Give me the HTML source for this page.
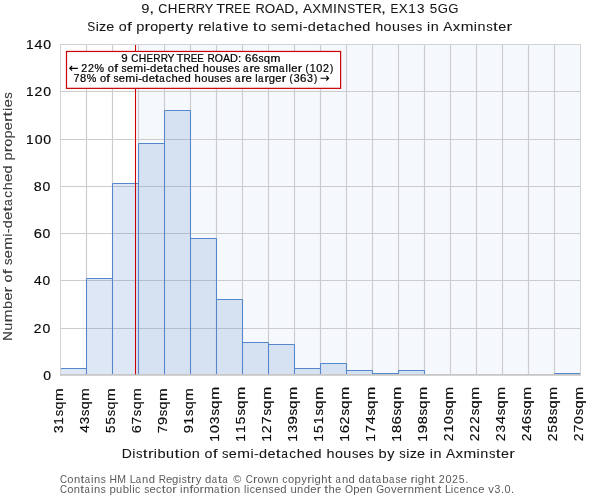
<!DOCTYPE html>
<html lang="en"><head><meta charset="utf-8"><title>Size of property relative to semi-detached houses in Axminster</title>
<style>html,body{margin:0;padding:0;background:#fff;}body{width:600px;height:500px;overflow:hidden;}svg{display:block;will-change:transform;}text{font-family:"Liberation Sans",sans-serif;stroke-linejoin:round;}.b text{stroke:#151515;stroke-width:0.06px;}.t text{stroke:#0a0a0a;stroke-width:0.16px;}.a text{stroke:#000;stroke-width:0.22px;}.l text{stroke:#3a3a3a;stroke-width:0.1px;}</style></head><body>
<svg width="600" height="500" viewBox="0 0 600 500">
<rect width="600" height="500" fill="#ffffff"/>
<rect x="136.0" y="44.5" width="444.5" height="329.5" fill="#5080c8" fill-opacity="0.06"/>
<path d="M86.5 44.5V375.0M112.5 44.5V375.0M138.5 44.5V375.0M164.5 44.5V375.0M190.5 44.5V375.0M216.5 44.5V375.0M242.5 44.5V375.0M268.5 44.5V375.0M294.5 44.5V375.0M320.5 44.5V375.0M346.5 44.5V375.0M372.5 44.5V375.0M398.5 44.5V375.0M424.5 44.5V375.0M450.5 44.5V375.0M476.5 44.5V375.0M502.5 44.5V375.0M528.5 44.5V375.0M554.5 44.5V375.0M60.5 374.5H580.5M60.5 328.5H580.5M60.5 280.5H580.5M60.5 233.5H580.5M60.5 186.5H580.5M60.5 139.5H580.5M60.5 91.5H580.5" stroke="#cccccc" stroke-width="1.15" fill="none"/>
<rect x="60.5" y="368.5" width="26.0" height="5.5" fill="#5080c8" fill-opacity="0.19"/>
<rect x="86.5" y="278.5" width="26.0" height="95.5" fill="#5080c8" fill-opacity="0.19"/>
<rect x="112.5" y="183.5" width="26.0" height="190.5" fill="#5080c8" fill-opacity="0.19"/>
<rect x="138.5" y="143.5" width="26.0" height="230.5" fill="#5080c8" fill-opacity="0.19"/>
<rect x="164.5" y="110.5" width="26.0" height="263.5" fill="#5080c8" fill-opacity="0.19"/>
<rect x="190.5" y="238.5" width="26.0" height="135.5" fill="#5080c8" fill-opacity="0.19"/>
<rect x="216.5" y="299.5" width="26.0" height="74.5" fill="#5080c8" fill-opacity="0.19"/>
<rect x="242.5" y="342.5" width="26.0" height="31.5" fill="#5080c8" fill-opacity="0.19"/>
<rect x="268.5" y="344.5" width="26.0" height="29.5" fill="#5080c8" fill-opacity="0.19"/>
<rect x="294.5" y="368.5" width="26.0" height="5.5" fill="#5080c8" fill-opacity="0.19"/>
<rect x="320.5" y="363.5" width="26.0" height="10.5" fill="#5080c8" fill-opacity="0.19"/>
<rect x="346.5" y="370.5" width="26.0" height="3.5" fill="#5080c8" fill-opacity="0.19"/>
<rect x="372.5" y="373.5" width="26.0" height="0.5" fill="#5080c8" fill-opacity="0.19"/>
<rect x="398.5" y="370.5" width="26.0" height="3.5" fill="#5080c8" fill-opacity="0.19"/>
<rect x="554.5" y="373.5" width="26.0" height="0.5" fill="#5080c8" fill-opacity="0.19"/>
<path d="M60.5 374V368.5H86.5V374M86.5 374V278.5H112.5V374M112.5 374V183.5H138.5V374M138.5 374V143.5H164.5V374M164.5 374V110.5H190.5V374M190.5 374V238.5H216.5V374M216.5 374V299.5H242.5V374M242.5 374V342.5H268.5V374M268.5 374V344.5H294.5V374M294.5 374V368.5H320.5V374M320.5 374V363.5H346.5V374M346.5 374V370.5H372.5V374M372.5 374V373.5H398.5V374M398.5 374V370.5H424.5V374M554.5 374V373.5H580.5V374" fill="none" stroke="#5486cc" stroke-width="1.0" stroke-linejoin="miter"/>
<path d="M135.5 44.5V375.0" stroke="#cc0000" stroke-width="1.05"/>
<path d="M60.5 44V375.7M580.5 44V375.7M60 44.5H581" fill="none" stroke="#d2d2d2" stroke-width="1.0"/>
<path d="M60 375H581" fill="none" stroke="#c4c4c4" stroke-width="1.4"/>
<rect x="66.5" y="51.45" width="274.1" height="36.9" fill="#ffffff" stroke="#cc0000" stroke-width="1.2"/>
<g opacity="0.999">
<g class="a">
<g font-size="10.3" fill="#000000"><text x="121.28" y="61.60" textLength="6.42" lengthAdjust="spacingAndGlyphs">9</text><text x="131.30" y="61.60" textLength="7.07" lengthAdjust="spacingAndGlyphs">C</text><text x="138.73" y="61.60" textLength="7.53" lengthAdjust="spacingAndGlyphs">H</text><text x="146.53" y="61.60" textLength="6.53" lengthAdjust="spacingAndGlyphs">E</text><text x="153.32" y="61.60" textLength="7.29" lengthAdjust="spacingAndGlyphs">R</text><text x="160.64" y="61.60" textLength="7.29" lengthAdjust="spacingAndGlyphs">R</text><text x="167.55" y="61.60" textLength="6.97" lengthAdjust="spacingAndGlyphs">Y</text><text x="176.63" y="61.60" textLength="6.99" lengthAdjust="spacingAndGlyphs">T</text><text x="183.48" y="61.60" textLength="7.29" lengthAdjust="spacingAndGlyphs">R</text><text x="190.66" y="61.60" textLength="6.53" lengthAdjust="spacingAndGlyphs">E</text><text x="197.31" y="61.60" textLength="6.53" lengthAdjust="spacingAndGlyphs">E</text><text x="207.45" y="61.60" textLength="7.29" lengthAdjust="spacingAndGlyphs">R</text><text x="214.68" y="61.60" textLength="8.13" lengthAdjust="spacingAndGlyphs">O</text><text x="222.91" y="61.60" textLength="7.13" lengthAdjust="spacingAndGlyphs">A</text><text x="229.99" y="61.60" textLength="7.92" lengthAdjust="spacingAndGlyphs">D</text><text x="238.14" y="61.60" textLength="3.22" lengthAdjust="spacingAndGlyphs">:</text><text x="244.97" y="61.60" textLength="6.42" lengthAdjust="spacingAndGlyphs">6</text><text x="251.67" y="61.60" textLength="6.42" lengthAdjust="spacingAndGlyphs">6</text><text x="258.53" y="61.60" textLength="5.08" lengthAdjust="spacingAndGlyphs">s</text><text x="263.87" y="61.60" textLength="6.30" lengthAdjust="spacingAndGlyphs">q</text><text x="270.60" y="61.60" textLength="9.95" lengthAdjust="spacingAndGlyphs">m</text></g>
<g font-size="10.3" fill="#000000"><text x="81.25" y="71.65" textLength="5.96" lengthAdjust="spacingAndGlyphs">2</text><text x="87.93" y="71.65" textLength="5.96" lengthAdjust="spacingAndGlyphs">2</text><text x="94.60" y="71.65" textLength="9.55" lengthAdjust="spacingAndGlyphs">%</text><text x="107.83" y="71.65" textLength="6.20" lengthAdjust="spacingAndGlyphs">o</text><text x="114.19" y="71.65" textLength="3.83" lengthAdjust="spacingAndGlyphs">f</text><text x="121.42" y="71.65" textLength="5.07" lengthAdjust="spacingAndGlyphs">s</text><text x="126.74" y="71.65" textLength="6.26" lengthAdjust="spacingAndGlyphs">e</text><text x="133.24" y="71.65" textLength="9.92" lengthAdjust="spacingAndGlyphs">m</text><text x="143.51" y="71.65" textLength="2.46" lengthAdjust="spacingAndGlyphs">i</text><text x="146.22" y="71.65" textLength="3.77" lengthAdjust="spacingAndGlyphs">-</text><text x="150.11" y="71.65" textLength="6.28" lengthAdjust="spacingAndGlyphs">d</text><text x="156.77" y="71.65" textLength="6.26" lengthAdjust="spacingAndGlyphs">e</text><text x="163.15" y="71.65" textLength="3.87" lengthAdjust="spacingAndGlyphs">t</text><text x="167.35" y="71.65" textLength="5.44" lengthAdjust="spacingAndGlyphs">a</text><text x="173.80" y="71.65" textLength="5.25" lengthAdjust="spacingAndGlyphs">c</text><text x="179.63" y="71.65" textLength="6.24" lengthAdjust="spacingAndGlyphs">h</text><text x="186.19" y="71.65" textLength="6.26" lengthAdjust="spacingAndGlyphs">e</text><text x="192.64" y="71.65" textLength="6.28" lengthAdjust="spacingAndGlyphs">d</text><text x="202.72" y="71.65" textLength="6.24" lengthAdjust="spacingAndGlyphs">h</text><text x="209.29" y="71.65" textLength="6.20" lengthAdjust="spacingAndGlyphs">o</text><text x="215.79" y="71.65" textLength="6.24" lengthAdjust="spacingAndGlyphs">u</text><text x="222.49" y="71.65" textLength="5.07" lengthAdjust="spacingAndGlyphs">s</text><text x="227.82" y="71.65" textLength="6.26" lengthAdjust="spacingAndGlyphs">e</text><text x="234.41" y="71.65" textLength="5.07" lengthAdjust="spacingAndGlyphs">s</text><text x="243.08" y="71.65" textLength="5.44" lengthAdjust="spacingAndGlyphs">a</text><text x="249.45" y="71.65" textLength="4.45" lengthAdjust="spacingAndGlyphs">r</text><text x="253.81" y="71.65" textLength="6.26" lengthAdjust="spacingAndGlyphs">e</text><text x="263.51" y="71.65" textLength="5.07" lengthAdjust="spacingAndGlyphs">s</text><text x="268.88" y="71.65" textLength="9.92" lengthAdjust="spacingAndGlyphs">m</text><text x="279.06" y="71.65" textLength="5.44" lengthAdjust="spacingAndGlyphs">a</text><text x="285.62" y="71.65" textLength="2.33" lengthAdjust="spacingAndGlyphs">l</text><text x="288.53" y="71.65" textLength="2.33" lengthAdjust="spacingAndGlyphs">l</text><text x="291.31" y="71.65" textLength="6.26" lengthAdjust="spacingAndGlyphs">e</text><text x="297.71" y="71.65" textLength="4.45" lengthAdjust="spacingAndGlyphs">r</text><text x="305.45" y="71.65" textLength="3.26" lengthAdjust="spacingAndGlyphs">(</text><text x="309.69" y="71.65" textLength="5.90" lengthAdjust="spacingAndGlyphs">1</text><text x="316.35" y="71.65" textLength="6.07" lengthAdjust="spacingAndGlyphs">0</text><text x="322.93" y="71.65" textLength="5.96" lengthAdjust="spacingAndGlyphs">2</text><text x="330.05" y="71.65" textLength="3.26" lengthAdjust="spacingAndGlyphs">)</text></g>
<g font-size="10.3" fill="#000000"><text x="73.46" y="81.55" textLength="6.01" lengthAdjust="spacingAndGlyphs">7</text><text x="80.06" y="81.55" textLength="6.19" lengthAdjust="spacingAndGlyphs">8</text><text x="86.69" y="81.55" textLength="9.54" lengthAdjust="spacingAndGlyphs">%</text><text x="99.90" y="81.55" textLength="6.19" lengthAdjust="spacingAndGlyphs">o</text><text x="106.25" y="81.55" textLength="3.83" lengthAdjust="spacingAndGlyphs">f</text><text x="113.46" y="81.55" textLength="5.06" lengthAdjust="spacingAndGlyphs">s</text><text x="118.77" y="81.55" textLength="6.25" lengthAdjust="spacingAndGlyphs">e</text><text x="125.26" y="81.55" textLength="9.90" lengthAdjust="spacingAndGlyphs">m</text><text x="135.52" y="81.55" textLength="2.46" lengthAdjust="spacingAndGlyphs">i</text><text x="138.22" y="81.55" textLength="3.77" lengthAdjust="spacingAndGlyphs">-</text><text x="142.10" y="81.55" textLength="6.27" lengthAdjust="spacingAndGlyphs">d</text><text x="148.75" y="81.55" textLength="6.25" lengthAdjust="spacingAndGlyphs">e</text><text x="155.12" y="81.55" textLength="3.86" lengthAdjust="spacingAndGlyphs">t</text><text x="159.30" y="81.55" textLength="5.44" lengthAdjust="spacingAndGlyphs">a</text><text x="165.75" y="81.55" textLength="5.24" lengthAdjust="spacingAndGlyphs">c</text><text x="171.57" y="81.55" textLength="6.23" lengthAdjust="spacingAndGlyphs">h</text><text x="178.12" y="81.55" textLength="6.25" lengthAdjust="spacingAndGlyphs">e</text><text x="184.56" y="81.55" textLength="6.27" lengthAdjust="spacingAndGlyphs">d</text><text x="194.62" y="81.55" textLength="6.23" lengthAdjust="spacingAndGlyphs">h</text><text x="201.18" y="81.55" textLength="6.19" lengthAdjust="spacingAndGlyphs">o</text><text x="207.67" y="81.55" textLength="6.23" lengthAdjust="spacingAndGlyphs">u</text><text x="214.36" y="81.55" textLength="5.06" lengthAdjust="spacingAndGlyphs">s</text><text x="219.67" y="81.55" textLength="6.25" lengthAdjust="spacingAndGlyphs">e</text><text x="226.26" y="81.55" textLength="5.06" lengthAdjust="spacingAndGlyphs">s</text><text x="234.90" y="81.55" textLength="5.44" lengthAdjust="spacingAndGlyphs">a</text><text x="241.27" y="81.55" textLength="4.45" lengthAdjust="spacingAndGlyphs">r</text><text x="245.63" y="81.55" textLength="6.25" lengthAdjust="spacingAndGlyphs">e</text><text x="255.30" y="81.55" textLength="2.33" lengthAdjust="spacingAndGlyphs">l</text><text x="258.08" y="81.55" textLength="5.44" lengthAdjust="spacingAndGlyphs">a</text><text x="264.44" y="81.55" textLength="4.45" lengthAdjust="spacingAndGlyphs">r</text><text x="268.80" y="81.55" textLength="6.27" lengthAdjust="spacingAndGlyphs">g</text><text x="275.26" y="81.55" textLength="6.25" lengthAdjust="spacingAndGlyphs">e</text><text x="281.66" y="81.55" textLength="4.45" lengthAdjust="spacingAndGlyphs">r</text><text x="289.38" y="81.55" textLength="3.26" lengthAdjust="spacingAndGlyphs">(</text><text x="293.72" y="81.55" textLength="5.89" lengthAdjust="spacingAndGlyphs">3</text><text x="300.07" y="81.55" textLength="6.39" lengthAdjust="spacingAndGlyphs">6</text><text x="307.04" y="81.55" textLength="5.89" lengthAdjust="spacingAndGlyphs">3</text><text x="313.94" y="81.55" textLength="3.26" lengthAdjust="spacingAndGlyphs">)</text></g>
</g>
<path d="M69.6 68.3H77.9M72.1 66.0L69.8 68.3L72.1 70.6" fill="none" stroke="#000000" stroke-width="1.15" stroke-linejoin="miter"/>
<path d="M320.5 78.2H328.8M326.3 75.9L328.6 78.2L326.3 80.5" fill="none" stroke="#000000" stroke-width="1.15" stroke-linejoin="miter"/>
<g class="b">
<g font-size="11.9" fill="#151515"><text x="141.24" y="12.70" textLength="8.20" lengthAdjust="spacingAndGlyphs">9</text><text x="149.16" y="12.70" textLength="4.96" lengthAdjust="spacingAndGlyphs">,</text><text x="158.30" y="12.70" textLength="9.02" lengthAdjust="spacingAndGlyphs">C</text><text x="167.78" y="12.70" textLength="9.62" lengthAdjust="spacingAndGlyphs">H</text><text x="178.02" y="12.70" textLength="7.81" lengthAdjust="spacingAndGlyphs">E</text><text x="186.41" y="12.70" textLength="9.30" lengthAdjust="spacingAndGlyphs">R</text><text x="195.75" y="12.70" textLength="9.30" lengthAdjust="spacingAndGlyphs">R</text><text x="204.58" y="12.70" textLength="8.89" lengthAdjust="spacingAndGlyphs">Y</text><text x="216.17" y="12.70" textLength="8.93" lengthAdjust="spacingAndGlyphs">T</text><text x="224.92" y="12.70" textLength="9.30" lengthAdjust="spacingAndGlyphs">R</text><text x="234.35" y="12.70" textLength="7.81" lengthAdjust="spacingAndGlyphs">E</text><text x="242.84" y="12.70" textLength="7.81" lengthAdjust="spacingAndGlyphs">E</text><text x="255.51" y="12.70" textLength="9.30" lengthAdjust="spacingAndGlyphs">R</text><text x="264.74" y="12.70" textLength="10.38" lengthAdjust="spacingAndGlyphs">O</text><text x="275.25" y="12.70" textLength="9.10" lengthAdjust="spacingAndGlyphs">A</text><text x="284.29" y="12.70" textLength="10.11" lengthAdjust="spacingAndGlyphs">D</text><text x="294.00" y="12.70" textLength="4.96" lengthAdjust="spacingAndGlyphs">,</text><text x="303.10" y="12.70" textLength="9.10" lengthAdjust="spacingAndGlyphs">A</text><text x="312.36" y="12.70" textLength="8.89" lengthAdjust="spacingAndGlyphs">X</text><text x="321.63" y="12.70" textLength="11.19" lengthAdjust="spacingAndGlyphs">M</text><text x="333.03" y="12.70" textLength="3.92" lengthAdjust="spacingAndGlyphs">I</text><text x="337.21" y="12.70" textLength="9.53" lengthAdjust="spacingAndGlyphs">N</text><text x="347.37" y="12.70" textLength="7.96" lengthAdjust="spacingAndGlyphs">S</text><text x="355.28" y="12.70" textLength="8.93" lengthAdjust="spacingAndGlyphs">T</text><text x="364.12" y="12.70" textLength="7.81" lengthAdjust="spacingAndGlyphs">E</text><text x="372.51" y="12.70" textLength="9.30" lengthAdjust="spacingAndGlyphs">R</text><text x="381.12" y="12.70" textLength="4.96" lengthAdjust="spacingAndGlyphs">,</text><text x="390.49" y="12.70" textLength="7.81" lengthAdjust="spacingAndGlyphs">E</text><text x="398.78" y="12.70" textLength="8.89" lengthAdjust="spacingAndGlyphs">X</text><text x="408.24" y="12.70" textLength="7.56" lengthAdjust="spacingAndGlyphs">1</text><text x="416.93" y="12.70" textLength="7.55" lengthAdjust="spacingAndGlyphs">3</text><text x="429.69" y="12.70" textLength="7.47" lengthAdjust="spacingAndGlyphs">5</text><text x="437.85" y="12.70" textLength="10.21" lengthAdjust="spacingAndGlyphs">G</text><text x="448.27" y="12.70" textLength="10.21" lengthAdjust="spacingAndGlyphs">G</text></g>
<g font-size="11.9" fill="#151515"><text x="87.16" y="30.75" textLength="7.97" lengthAdjust="spacingAndGlyphs">S</text><text x="95.65" y="30.75" textLength="3.15" lengthAdjust="spacingAndGlyphs">i</text><text x="99.06" y="30.75" textLength="7.21" lengthAdjust="spacingAndGlyphs">z</text><text x="106.32" y="30.75" textLength="8.03" lengthAdjust="spacingAndGlyphs">e</text><text x="118.88" y="30.75" textLength="7.95" lengthAdjust="spacingAndGlyphs">o</text><text x="127.03" y="30.75" textLength="4.91" lengthAdjust="spacingAndGlyphs">f</text><text x="136.28" y="30.75" textLength="8.14" lengthAdjust="spacingAndGlyphs">p</text><text x="144.59" y="30.75" textLength="5.71" lengthAdjust="spacingAndGlyphs">r</text><text x="150.19" y="30.75" textLength="7.95" lengthAdjust="spacingAndGlyphs">o</text><text x="158.29" y="30.75" textLength="8.14" lengthAdjust="spacingAndGlyphs">p</text><text x="166.65" y="30.75" textLength="8.03" lengthAdjust="spacingAndGlyphs">e</text><text x="174.86" y="30.75" textLength="5.71" lengthAdjust="spacingAndGlyphs">r</text><text x="180.37" y="30.75" textLength="4.96" lengthAdjust="spacingAndGlyphs">t</text><text x="185.98" y="30.75" textLength="7.20" lengthAdjust="spacingAndGlyphs">y</text><text x="197.90" y="30.75" textLength="5.71" lengthAdjust="spacingAndGlyphs">r</text><text x="203.50" y="30.75" textLength="8.03" lengthAdjust="spacingAndGlyphs">e</text><text x="211.65" y="30.75" textLength="2.99" lengthAdjust="spacingAndGlyphs">l</text><text x="215.38" y="30.75" textLength="6.69" lengthAdjust="spacingAndGlyphs">a</text><text x="223.37" y="30.75" textLength="4.96" lengthAdjust="spacingAndGlyphs">t</text><text x="228.86" y="30.75" textLength="3.15" lengthAdjust="spacingAndGlyphs">i</text><text x="232.71" y="30.75" textLength="7.20" lengthAdjust="spacingAndGlyphs">v</text><text x="240.43" y="30.75" textLength="8.03" lengthAdjust="spacingAndGlyphs">e</text><text x="252.89" y="30.75" textLength="4.96" lengthAdjust="spacingAndGlyphs">t</text><text x="258.26" y="30.75" textLength="7.95" lengthAdjust="spacingAndGlyphs">o</text><text x="270.95" y="30.75" textLength="6.50" lengthAdjust="spacingAndGlyphs">s</text><text x="277.77" y="30.75" textLength="8.03" lengthAdjust="spacingAndGlyphs">e</text><text x="286.10" y="30.75" textLength="12.71" lengthAdjust="spacingAndGlyphs">m</text><text x="299.27" y="30.75" textLength="3.15" lengthAdjust="spacingAndGlyphs">i</text><text x="302.75" y="30.75" textLength="4.84" lengthAdjust="spacingAndGlyphs">-</text><text x="307.74" y="30.75" textLength="8.06" lengthAdjust="spacingAndGlyphs">d</text><text x="316.28" y="30.75" textLength="8.03" lengthAdjust="spacingAndGlyphs">e</text><text x="324.46" y="30.75" textLength="4.96" lengthAdjust="spacingAndGlyphs">t</text><text x="329.99" y="30.75" textLength="6.69" lengthAdjust="spacingAndGlyphs">a</text><text x="338.11" y="30.75" textLength="6.73" lengthAdjust="spacingAndGlyphs">c</text><text x="345.58" y="30.75" textLength="8.00" lengthAdjust="spacingAndGlyphs">h</text><text x="353.99" y="30.75" textLength="8.03" lengthAdjust="spacingAndGlyphs">e</text><text x="362.26" y="30.75" textLength="8.06" lengthAdjust="spacingAndGlyphs">d</text><text x="375.19" y="30.75" textLength="8.00" lengthAdjust="spacingAndGlyphs">h</text><text x="383.61" y="30.75" textLength="7.95" lengthAdjust="spacingAndGlyphs">o</text><text x="391.95" y="30.75" textLength="8.00" lengthAdjust="spacingAndGlyphs">u</text><text x="400.54" y="30.75" textLength="6.50" lengthAdjust="spacingAndGlyphs">s</text><text x="407.37" y="30.75" textLength="8.03" lengthAdjust="spacingAndGlyphs">e</text><text x="415.83" y="30.75" textLength="6.50" lengthAdjust="spacingAndGlyphs">s</text><text x="427.05" y="30.75" textLength="3.15" lengthAdjust="spacingAndGlyphs">i</text><text x="430.77" y="30.75" textLength="8.00" lengthAdjust="spacingAndGlyphs">n</text><text x="443.37" y="30.75" textLength="9.11" lengthAdjust="spacingAndGlyphs">A</text><text x="452.69" y="30.75" textLength="7.50" lengthAdjust="spacingAndGlyphs">x</text><text x="460.68" y="30.75" textLength="12.71" lengthAdjust="spacingAndGlyphs">m</text><text x="473.85" y="30.75" textLength="3.15" lengthAdjust="spacingAndGlyphs">i</text><text x="477.58" y="30.75" textLength="8.00" lengthAdjust="spacingAndGlyphs">n</text><text x="486.17" y="30.75" textLength="6.50" lengthAdjust="spacingAndGlyphs">s</text><text x="492.90" y="30.75" textLength="4.96" lengthAdjust="spacingAndGlyphs">t</text><text x="498.27" y="30.75" textLength="8.03" lengthAdjust="spacingAndGlyphs">e</text><text x="506.48" y="30.75" textLength="5.71" lengthAdjust="spacingAndGlyphs">r</text></g>
<g font-size="11.9" fill="#151515"><text x="121.68" y="457.80" textLength="10.14" lengthAdjust="spacingAndGlyphs">D</text><text x="132.19" y="457.80" textLength="3.16" lengthAdjust="spacingAndGlyphs">i</text><text x="135.99" y="457.80" textLength="6.51" lengthAdjust="spacingAndGlyphs">s</text><text x="142.74" y="457.80" textLength="4.96" lengthAdjust="spacingAndGlyphs">t</text><text x="148.05" y="457.80" textLength="5.72" lengthAdjust="spacingAndGlyphs">r</text><text x="153.78" y="457.80" textLength="3.16" lengthAdjust="spacingAndGlyphs">i</text><text x="157.57" y="457.80" textLength="8.15" lengthAdjust="spacingAndGlyphs">b</text><text x="166.07" y="457.80" textLength="8.02" lengthAdjust="spacingAndGlyphs">u</text><text x="174.41" y="457.80" textLength="4.96" lengthAdjust="spacingAndGlyphs">t</text><text x="179.91" y="457.80" textLength="3.16" lengthAdjust="spacingAndGlyphs">i</text><text x="183.53" y="457.80" textLength="7.97" lengthAdjust="spacingAndGlyphs">o</text><text x="191.88" y="457.80" textLength="8.02" lengthAdjust="spacingAndGlyphs">n</text><text x="204.60" y="457.80" textLength="7.97" lengthAdjust="spacingAndGlyphs">o</text><text x="212.77" y="457.80" textLength="4.92" lengthAdjust="spacingAndGlyphs">f</text><text x="222.06" y="457.80" textLength="6.51" lengthAdjust="spacingAndGlyphs">s</text><text x="228.89" y="457.80" textLength="8.05" lengthAdjust="spacingAndGlyphs">e</text><text x="237.24" y="457.80" textLength="12.74" lengthAdjust="spacingAndGlyphs">m</text><text x="250.44" y="457.80" textLength="3.16" lengthAdjust="spacingAndGlyphs">i</text><text x="253.92" y="457.80" textLength="4.85" lengthAdjust="spacingAndGlyphs">-</text><text x="258.92" y="457.80" textLength="8.07" lengthAdjust="spacingAndGlyphs">d</text><text x="267.48" y="457.80" textLength="8.05" lengthAdjust="spacingAndGlyphs">e</text><text x="275.68" y="457.80" textLength="4.96" lengthAdjust="spacingAndGlyphs">t</text><text x="281.22" y="457.80" textLength="6.70" lengthAdjust="spacingAndGlyphs">a</text><text x="289.35" y="457.80" textLength="6.74" lengthAdjust="spacingAndGlyphs">c</text><text x="296.84" y="457.80" textLength="8.02" lengthAdjust="spacingAndGlyphs">h</text><text x="305.27" y="457.80" textLength="8.05" lengthAdjust="spacingAndGlyphs">e</text><text x="313.56" y="457.80" textLength="8.07" lengthAdjust="spacingAndGlyphs">d</text><text x="326.51" y="457.80" textLength="8.02" lengthAdjust="spacingAndGlyphs">h</text><text x="334.95" y="457.80" textLength="7.97" lengthAdjust="spacingAndGlyphs">o</text><text x="343.30" y="457.80" textLength="8.02" lengthAdjust="spacingAndGlyphs">u</text><text x="351.92" y="457.80" textLength="6.51" lengthAdjust="spacingAndGlyphs">s</text><text x="358.75" y="457.80" textLength="8.05" lengthAdjust="spacingAndGlyphs">e</text><text x="367.23" y="457.80" textLength="6.51" lengthAdjust="spacingAndGlyphs">s</text><text x="378.52" y="457.80" textLength="8.15" lengthAdjust="spacingAndGlyphs">b</text><text x="387.15" y="457.80" textLength="7.21" lengthAdjust="spacingAndGlyphs">y</text><text x="399.35" y="457.80" textLength="6.51" lengthAdjust="spacingAndGlyphs">s</text><text x="406.31" y="457.80" textLength="3.16" lengthAdjust="spacingAndGlyphs">i</text><text x="409.73" y="457.80" textLength="7.23" lengthAdjust="spacingAndGlyphs">z</text><text x="417.01" y="457.80" textLength="8.05" lengthAdjust="spacingAndGlyphs">e</text><text x="429.71" y="457.80" textLength="3.16" lengthAdjust="spacingAndGlyphs">i</text><text x="433.44" y="457.80" textLength="8.02" lengthAdjust="spacingAndGlyphs">n</text><text x="446.06" y="457.80" textLength="9.13" lengthAdjust="spacingAndGlyphs">A</text><text x="455.40" y="457.80" textLength="7.51" lengthAdjust="spacingAndGlyphs">x</text><text x="463.41" y="457.80" textLength="12.74" lengthAdjust="spacingAndGlyphs">m</text><text x="476.61" y="457.80" textLength="3.16" lengthAdjust="spacingAndGlyphs">i</text><text x="480.34" y="457.80" textLength="8.02" lengthAdjust="spacingAndGlyphs">n</text><text x="488.95" y="457.80" textLength="6.51" lengthAdjust="spacingAndGlyphs">s</text><text x="495.70" y="457.80" textLength="4.96" lengthAdjust="spacingAndGlyphs">t</text><text x="501.07" y="457.80" textLength="8.05" lengthAdjust="spacingAndGlyphs">e</text><text x="509.30" y="457.80" textLength="5.72" lengthAdjust="spacingAndGlyphs">r</text></g>
</g>
<g class="t">
<g font-size="11.9" fill="#0a0a0a"><text x="43.21" y="379.80" textLength="7.80" lengthAdjust="spacingAndGlyphs">0</text></g>
<g font-size="11.9" fill="#0a0a0a"><text x="33.71" y="332.80" textLength="7.66" lengthAdjust="spacingAndGlyphs">2</text><text x="42.42" y="332.80" textLength="7.81" lengthAdjust="spacingAndGlyphs">0</text></g>
<g font-size="11.9" fill="#0a0a0a"><text x="34.12" y="284.80" textLength="7.77" lengthAdjust="spacingAndGlyphs">4</text><text x="42.58" y="284.80" textLength="7.64" lengthAdjust="spacingAndGlyphs">0</text></g>
<g font-size="11.9" fill="#0a0a0a"><text x="33.66" y="237.80" textLength="8.19" lengthAdjust="spacingAndGlyphs">6</text><text x="42.45" y="237.80" textLength="7.77" lengthAdjust="spacingAndGlyphs">0</text></g>
<g font-size="11.9" fill="#0a0a0a"><text x="33.83" y="190.80" textLength="7.94" lengthAdjust="spacingAndGlyphs">8</text><text x="42.45" y="190.80" textLength="7.77" lengthAdjust="spacingAndGlyphs">0</text></g>
<g font-size="11.9" fill="#0a0a0a"><text x="26.07" y="143.80" textLength="7.63" lengthAdjust="spacingAndGlyphs">1</text><text x="34.69" y="143.80" textLength="7.85" lengthAdjust="spacingAndGlyphs">0</text><text x="43.32" y="143.80" textLength="7.85" lengthAdjust="spacingAndGlyphs">0</text></g>
<g font-size="11.9" fill="#0a0a0a"><text x="26.07" y="95.80" textLength="7.63" lengthAdjust="spacingAndGlyphs">1</text><text x="34.56" y="95.80" textLength="7.71" lengthAdjust="spacingAndGlyphs">2</text><text x="43.32" y="95.80" textLength="7.85" lengthAdjust="spacingAndGlyphs">0</text></g>
<g font-size="11.9" fill="#0a0a0a"><text x="26.07" y="48.80" textLength="7.63" lengthAdjust="spacingAndGlyphs">1</text><text x="34.63" y="48.80" textLength="7.99" lengthAdjust="spacingAndGlyphs">4</text><text x="43.32" y="48.80" textLength="7.85" lengthAdjust="spacingAndGlyphs">0</text></g>
<g font-size="11.9" fill="#0a0a0a"><text transform="rotate(-90)" x="-433.07" y="63.40" textLength="7.52" lengthAdjust="spacingAndGlyphs">3</text><text transform="rotate(-90)" x="-424.70" y="63.40" textLength="7.52" lengthAdjust="spacingAndGlyphs">1</text><text transform="rotate(-90)" x="-416.24" y="63.40" textLength="6.46" lengthAdjust="spacingAndGlyphs">s</text><text transform="rotate(-90)" x="-409.46" y="63.40" textLength="8.01" lengthAdjust="spacingAndGlyphs">q</text><text transform="rotate(-90)" x="-400.91" y="63.40" textLength="12.64" lengthAdjust="spacingAndGlyphs">m</text></g>
<g font-size="11.9" fill="#0a0a0a"><text transform="rotate(-90)" x="-432.88" y="89.40" textLength="7.80" lengthAdjust="spacingAndGlyphs">4</text><text transform="rotate(-90)" x="-424.24" y="89.40" textLength="7.45" lengthAdjust="spacingAndGlyphs">3</text><text transform="rotate(-90)" x="-415.99" y="89.40" textLength="6.40" lengthAdjust="spacingAndGlyphs">s</text><text transform="rotate(-90)" x="-409.27" y="89.40" textLength="7.94" lengthAdjust="spacingAndGlyphs">q</text><text transform="rotate(-90)" x="-400.80" y="89.40" textLength="12.53" lengthAdjust="spacingAndGlyphs">m</text></g>
<g font-size="11.9" fill="#0a0a0a"><text transform="rotate(-90)" x="-433.13" y="115.40" textLength="7.44" lengthAdjust="spacingAndGlyphs">5</text><text transform="rotate(-90)" x="-424.63" y="115.40" textLength="7.44" lengthAdjust="spacingAndGlyphs">5</text><text transform="rotate(-90)" x="-416.24" y="115.40" textLength="6.46" lengthAdjust="spacingAndGlyphs">s</text><text transform="rotate(-90)" x="-409.46" y="115.40" textLength="8.01" lengthAdjust="spacingAndGlyphs">q</text><text transform="rotate(-90)" x="-400.91" y="115.40" textLength="12.64" lengthAdjust="spacingAndGlyphs">m</text></g>
<g font-size="11.9" fill="#0a0a0a"><text transform="rotate(-90)" x="-433.33" y="141.40" textLength="8.13" lengthAdjust="spacingAndGlyphs">6</text><text transform="rotate(-90)" x="-424.61" y="141.40" textLength="7.66" lengthAdjust="spacingAndGlyphs">7</text><text transform="rotate(-90)" x="-416.16" y="141.40" textLength="6.44" lengthAdjust="spacingAndGlyphs">s</text><text transform="rotate(-90)" x="-409.39" y="141.40" textLength="7.99" lengthAdjust="spacingAndGlyphs">q</text><text transform="rotate(-90)" x="-400.87" y="141.40" textLength="12.60" lengthAdjust="spacingAndGlyphs">m</text></g>
<g font-size="11.9" fill="#0a0a0a"><text transform="rotate(-90)" x="-433.29" y="167.40" textLength="7.69" lengthAdjust="spacingAndGlyphs">7</text><text transform="rotate(-90)" x="-425.01" y="167.40" textLength="8.17" lengthAdjust="spacingAndGlyphs">9</text><text transform="rotate(-90)" x="-416.28" y="167.40" textLength="6.47" lengthAdjust="spacingAndGlyphs">s</text><text transform="rotate(-90)" x="-409.49" y="167.40" textLength="8.02" lengthAdjust="spacingAndGlyphs">q</text><text transform="rotate(-90)" x="-400.93" y="167.40" textLength="12.66" lengthAdjust="spacingAndGlyphs">m</text></g>
<g font-size="11.9" fill="#0a0a0a"><text transform="rotate(-90)" x="-433.26" y="193.40" textLength="8.12" lengthAdjust="spacingAndGlyphs">9</text><text transform="rotate(-90)" x="-424.54" y="193.40" textLength="7.49" lengthAdjust="spacingAndGlyphs">1</text><text transform="rotate(-90)" x="-416.11" y="193.40" textLength="6.43" lengthAdjust="spacingAndGlyphs">s</text><text transform="rotate(-90)" x="-409.36" y="193.40" textLength="7.97" lengthAdjust="spacingAndGlyphs">q</text><text transform="rotate(-90)" x="-400.86" y="193.40" textLength="12.58" lengthAdjust="spacingAndGlyphs">m</text></g>
<g font-size="11.9" fill="#0a0a0a"><text transform="rotate(-90)" x="-441.74" y="219.40" textLength="7.72" lengthAdjust="spacingAndGlyphs">1</text><text transform="rotate(-90)" x="-433.02" y="219.40" textLength="7.94" lengthAdjust="spacingAndGlyphs">0</text><text transform="rotate(-90)" x="-424.15" y="219.40" textLength="7.71" lengthAdjust="spacingAndGlyphs">3</text><text transform="rotate(-90)" x="-415.61" y="219.40" textLength="6.62" lengthAdjust="spacingAndGlyphs">s</text><text transform="rotate(-90)" x="-408.65" y="219.40" textLength="8.21" lengthAdjust="spacingAndGlyphs">q</text><text transform="rotate(-90)" x="-399.89" y="219.40" textLength="12.96" lengthAdjust="spacingAndGlyphs">m</text></g>
<g font-size="11.9" fill="#0a0a0a"><text transform="rotate(-90)" x="-441.74" y="245.40" textLength="7.72" lengthAdjust="spacingAndGlyphs">1</text><text transform="rotate(-90)" x="-433.01" y="245.40" textLength="7.72" lengthAdjust="spacingAndGlyphs">1</text><text transform="rotate(-90)" x="-424.21" y="245.40" textLength="7.63" lengthAdjust="spacingAndGlyphs">5</text><text transform="rotate(-90)" x="-415.61" y="245.40" textLength="6.62" lengthAdjust="spacingAndGlyphs">s</text><text transform="rotate(-90)" x="-408.65" y="245.40" textLength="8.21" lengthAdjust="spacingAndGlyphs">q</text><text transform="rotate(-90)" x="-399.89" y="245.40" textLength="12.96" lengthAdjust="spacingAndGlyphs">m</text></g>
<g font-size="11.9" fill="#0a0a0a"><text transform="rotate(-90)" x="-441.74" y="271.40" textLength="7.72" lengthAdjust="spacingAndGlyphs">1</text><text transform="rotate(-90)" x="-433.15" y="271.40" textLength="7.79" lengthAdjust="spacingAndGlyphs">2</text><text transform="rotate(-90)" x="-424.30" y="271.40" textLength="7.88" lengthAdjust="spacingAndGlyphs">7</text><text transform="rotate(-90)" x="-415.61" y="271.40" textLength="6.62" lengthAdjust="spacingAndGlyphs">s</text><text transform="rotate(-90)" x="-408.65" y="271.40" textLength="8.21" lengthAdjust="spacingAndGlyphs">q</text><text transform="rotate(-90)" x="-399.89" y="271.40" textLength="12.96" lengthAdjust="spacingAndGlyphs">m</text></g>
<g font-size="11.9" fill="#0a0a0a"><text transform="rotate(-90)" x="-441.74" y="297.40" textLength="7.72" lengthAdjust="spacingAndGlyphs">1</text><text transform="rotate(-90)" x="-432.87" y="297.40" textLength="7.71" lengthAdjust="spacingAndGlyphs">3</text><text transform="rotate(-90)" x="-424.54" y="297.40" textLength="8.37" lengthAdjust="spacingAndGlyphs">9</text><text transform="rotate(-90)" x="-415.61" y="297.40" textLength="6.62" lengthAdjust="spacingAndGlyphs">s</text><text transform="rotate(-90)" x="-408.65" y="297.40" textLength="8.21" lengthAdjust="spacingAndGlyphs">q</text><text transform="rotate(-90)" x="-399.89" y="297.40" textLength="12.96" lengthAdjust="spacingAndGlyphs">m</text></g>
<g font-size="11.9" fill="#0a0a0a"><text transform="rotate(-90)" x="-441.74" y="323.40" textLength="7.72" lengthAdjust="spacingAndGlyphs">1</text><text transform="rotate(-90)" x="-432.93" y="323.40" textLength="7.63" lengthAdjust="spacingAndGlyphs">5</text><text transform="rotate(-90)" x="-424.29" y="323.40" textLength="7.72" lengthAdjust="spacingAndGlyphs">1</text><text transform="rotate(-90)" x="-415.61" y="323.40" textLength="6.62" lengthAdjust="spacingAndGlyphs">s</text><text transform="rotate(-90)" x="-408.65" y="323.40" textLength="8.21" lengthAdjust="spacingAndGlyphs">q</text><text transform="rotate(-90)" x="-399.89" y="323.40" textLength="12.96" lengthAdjust="spacingAndGlyphs">m</text></g>
<g font-size="11.9" fill="#0a0a0a"><text transform="rotate(-90)" x="-441.74" y="349.40" textLength="7.72" lengthAdjust="spacingAndGlyphs">1</text><text transform="rotate(-90)" x="-433.27" y="349.40" textLength="8.37" lengthAdjust="spacingAndGlyphs">6</text><text transform="rotate(-90)" x="-424.43" y="349.40" textLength="7.79" lengthAdjust="spacingAndGlyphs">2</text><text transform="rotate(-90)" x="-415.61" y="349.40" textLength="6.62" lengthAdjust="spacingAndGlyphs">s</text><text transform="rotate(-90)" x="-408.65" y="349.40" textLength="8.21" lengthAdjust="spacingAndGlyphs">q</text><text transform="rotate(-90)" x="-399.89" y="349.40" textLength="12.96" lengthAdjust="spacingAndGlyphs">m</text></g>
<g font-size="11.9" fill="#0a0a0a"><text transform="rotate(-90)" x="-441.74" y="375.40" textLength="7.72" lengthAdjust="spacingAndGlyphs">1</text><text transform="rotate(-90)" x="-433.03" y="375.40" textLength="7.88" lengthAdjust="spacingAndGlyphs">7</text><text transform="rotate(-90)" x="-424.36" y="375.40" textLength="8.08" lengthAdjust="spacingAndGlyphs">4</text><text transform="rotate(-90)" x="-415.61" y="375.40" textLength="6.62" lengthAdjust="spacingAndGlyphs">s</text><text transform="rotate(-90)" x="-408.65" y="375.40" textLength="8.21" lengthAdjust="spacingAndGlyphs">q</text><text transform="rotate(-90)" x="-399.89" y="375.40" textLength="12.96" lengthAdjust="spacingAndGlyphs">m</text></g>
<g font-size="11.9" fill="#0a0a0a"><text transform="rotate(-90)" x="-441.74" y="401.40" textLength="7.72" lengthAdjust="spacingAndGlyphs">1</text><text transform="rotate(-90)" x="-433.11" y="401.40" textLength="8.11" lengthAdjust="spacingAndGlyphs">8</text><text transform="rotate(-90)" x="-424.55" y="401.40" textLength="8.37" lengthAdjust="spacingAndGlyphs">6</text><text transform="rotate(-90)" x="-415.61" y="401.40" textLength="6.62" lengthAdjust="spacingAndGlyphs">s</text><text transform="rotate(-90)" x="-408.65" y="401.40" textLength="8.21" lengthAdjust="spacingAndGlyphs">q</text><text transform="rotate(-90)" x="-399.89" y="401.40" textLength="12.96" lengthAdjust="spacingAndGlyphs">m</text></g>
<g font-size="11.9" fill="#0a0a0a"><text transform="rotate(-90)" x="-441.74" y="427.40" textLength="7.72" lengthAdjust="spacingAndGlyphs">1</text><text transform="rotate(-90)" x="-433.27" y="427.40" textLength="8.37" lengthAdjust="spacingAndGlyphs">9</text><text transform="rotate(-90)" x="-424.38" y="427.40" textLength="8.11" lengthAdjust="spacingAndGlyphs">8</text><text transform="rotate(-90)" x="-415.61" y="427.40" textLength="6.62" lengthAdjust="spacingAndGlyphs">s</text><text transform="rotate(-90)" x="-408.65" y="427.40" textLength="8.21" lengthAdjust="spacingAndGlyphs">q</text><text transform="rotate(-90)" x="-399.89" y="427.40" textLength="12.96" lengthAdjust="spacingAndGlyphs">m</text></g>
<g font-size="11.9" fill="#0a0a0a"><text transform="rotate(-90)" x="-441.39" y="453.40" textLength="7.72" lengthAdjust="spacingAndGlyphs">2</text><text transform="rotate(-90)" x="-432.61" y="453.40" textLength="7.65" lengthAdjust="spacingAndGlyphs">1</text><text transform="rotate(-90)" x="-423.97" y="453.40" textLength="7.87" lengthAdjust="spacingAndGlyphs">0</text><text transform="rotate(-90)" x="-415.36" y="453.40" textLength="6.56" lengthAdjust="spacingAndGlyphs">s</text><text transform="rotate(-90)" x="-408.47" y="453.40" textLength="8.14" lengthAdjust="spacingAndGlyphs">q</text><text transform="rotate(-90)" x="-399.78" y="453.40" textLength="12.85" lengthAdjust="spacingAndGlyphs">m</text></g>
<g font-size="11.9" fill="#0a0a0a"><text transform="rotate(-90)" x="-441.39" y="479.40" textLength="7.72" lengthAdjust="spacingAndGlyphs">2</text><text transform="rotate(-90)" x="-432.75" y="479.40" textLength="7.72" lengthAdjust="spacingAndGlyphs">2</text><text transform="rotate(-90)" x="-424.10" y="479.40" textLength="7.72" lengthAdjust="spacingAndGlyphs">2</text><text transform="rotate(-90)" x="-415.36" y="479.40" textLength="6.56" lengthAdjust="spacingAndGlyphs">s</text><text transform="rotate(-90)" x="-408.47" y="479.40" textLength="8.14" lengthAdjust="spacingAndGlyphs">q</text><text transform="rotate(-90)" x="-399.78" y="479.40" textLength="12.85" lengthAdjust="spacingAndGlyphs">m</text></g>
<g font-size="11.9" fill="#0a0a0a"><text transform="rotate(-90)" x="-441.39" y="505.40" textLength="7.72" lengthAdjust="spacingAndGlyphs">2</text><text transform="rotate(-90)" x="-432.47" y="505.40" textLength="7.64" lengthAdjust="spacingAndGlyphs">3</text><text transform="rotate(-90)" x="-424.03" y="505.40" textLength="8.00" lengthAdjust="spacingAndGlyphs">4</text><text transform="rotate(-90)" x="-415.36" y="505.40" textLength="6.56" lengthAdjust="spacingAndGlyphs">s</text><text transform="rotate(-90)" x="-408.47" y="505.40" textLength="8.14" lengthAdjust="spacingAndGlyphs">q</text><text transform="rotate(-90)" x="-399.78" y="505.40" textLength="12.85" lengthAdjust="spacingAndGlyphs">m</text></g>
<g font-size="11.9" fill="#0a0a0a"><text transform="rotate(-90)" x="-441.39" y="531.40" textLength="7.72" lengthAdjust="spacingAndGlyphs">2</text><text transform="rotate(-90)" x="-432.68" y="531.40" textLength="8.00" lengthAdjust="spacingAndGlyphs">4</text><text transform="rotate(-90)" x="-424.22" y="531.40" textLength="8.29" lengthAdjust="spacingAndGlyphs">6</text><text transform="rotate(-90)" x="-415.36" y="531.40" textLength="6.56" lengthAdjust="spacingAndGlyphs">s</text><text transform="rotate(-90)" x="-408.47" y="531.40" textLength="8.14" lengthAdjust="spacingAndGlyphs">q</text><text transform="rotate(-90)" x="-399.78" y="531.40" textLength="12.85" lengthAdjust="spacingAndGlyphs">m</text></g>
<g font-size="11.9" fill="#0a0a0a"><text transform="rotate(-90)" x="-441.39" y="557.40" textLength="7.72" lengthAdjust="spacingAndGlyphs">2</text><text transform="rotate(-90)" x="-432.53" y="557.40" textLength="7.56" lengthAdjust="spacingAndGlyphs">5</text><text transform="rotate(-90)" x="-424.05" y="557.40" textLength="8.04" lengthAdjust="spacingAndGlyphs">8</text><text transform="rotate(-90)" x="-415.36" y="557.40" textLength="6.56" lengthAdjust="spacingAndGlyphs">s</text><text transform="rotate(-90)" x="-408.47" y="557.40" textLength="8.14" lengthAdjust="spacingAndGlyphs">q</text><text transform="rotate(-90)" x="-399.78" y="557.40" textLength="12.85" lengthAdjust="spacingAndGlyphs">m</text></g>
<g font-size="11.9" fill="#0a0a0a"><text transform="rotate(-90)" x="-441.39" y="583.40" textLength="7.72" lengthAdjust="spacingAndGlyphs">2</text><text transform="rotate(-90)" x="-432.62" y="583.40" textLength="7.81" lengthAdjust="spacingAndGlyphs">7</text><text transform="rotate(-90)" x="-423.97" y="583.40" textLength="7.87" lengthAdjust="spacingAndGlyphs">0</text><text transform="rotate(-90)" x="-415.36" y="583.40" textLength="6.56" lengthAdjust="spacingAndGlyphs">s</text><text transform="rotate(-90)" x="-408.47" y="583.40" textLength="8.14" lengthAdjust="spacingAndGlyphs">q</text><text transform="rotate(-90)" x="-399.78" y="583.40" textLength="12.85" lengthAdjust="spacingAndGlyphs">m</text></g>
</g>
<g class="l">
<g font-size="11.9" fill="#3a3a3a"><text transform="rotate(-90)" x="-340.86" y="12.10" textLength="9.56" lengthAdjust="spacingAndGlyphs">N</text><text transform="rotate(-90)" x="-330.72" y="12.10" textLength="8.02" lengthAdjust="spacingAndGlyphs">u</text><text transform="rotate(-90)" x="-322.25" y="12.10" textLength="12.73" lengthAdjust="spacingAndGlyphs">m</text><text transform="rotate(-90)" x="-309.01" y="12.10" textLength="8.15" lengthAdjust="spacingAndGlyphs">b</text><text transform="rotate(-90)" x="-300.63" y="12.10" textLength="8.04" lengthAdjust="spacingAndGlyphs">e</text><text transform="rotate(-90)" x="-292.40" y="12.10" textLength="5.72" lengthAdjust="spacingAndGlyphs">r</text><text transform="rotate(-90)" x="-282.51" y="12.10" textLength="7.97" lengthAdjust="spacingAndGlyphs">o</text><text transform="rotate(-90)" x="-274.35" y="12.10" textLength="4.92" lengthAdjust="spacingAndGlyphs">f</text><text transform="rotate(-90)" x="-265.06" y="12.10" textLength="6.51" lengthAdjust="spacingAndGlyphs">s</text><text transform="rotate(-90)" x="-258.23" y="12.10" textLength="8.04" lengthAdjust="spacingAndGlyphs">e</text><text transform="rotate(-90)" x="-249.89" y="12.10" textLength="12.73" lengthAdjust="spacingAndGlyphs">m</text><text transform="rotate(-90)" x="-236.69" y="12.10" textLength="3.16" lengthAdjust="spacingAndGlyphs">i</text><text transform="rotate(-90)" x="-233.22" y="12.10" textLength="4.85" lengthAdjust="spacingAndGlyphs">-</text><text transform="rotate(-90)" x="-228.22" y="12.10" textLength="8.07" lengthAdjust="spacingAndGlyphs">d</text><text transform="rotate(-90)" x="-219.67" y="12.10" textLength="8.04" lengthAdjust="spacingAndGlyphs">e</text><text transform="rotate(-90)" x="-211.47" y="12.10" textLength="4.96" lengthAdjust="spacingAndGlyphs">t</text><text transform="rotate(-90)" x="-205.93" y="12.10" textLength="6.70" lengthAdjust="spacingAndGlyphs">a</text><text transform="rotate(-90)" x="-197.80" y="12.10" textLength="6.74" lengthAdjust="spacingAndGlyphs">c</text><text transform="rotate(-90)" x="-190.32" y="12.10" textLength="8.02" lengthAdjust="spacingAndGlyphs">h</text><text transform="rotate(-90)" x="-181.89" y="12.10" textLength="8.04" lengthAdjust="spacingAndGlyphs">e</text><text transform="rotate(-90)" x="-173.61" y="12.10" textLength="8.07" lengthAdjust="spacingAndGlyphs">d</text><text transform="rotate(-90)" x="-160.60" y="12.10" textLength="8.15" lengthAdjust="spacingAndGlyphs">p</text><text transform="rotate(-90)" x="-152.29" y="12.10" textLength="5.72" lengthAdjust="spacingAndGlyphs">r</text><text transform="rotate(-90)" x="-146.68" y="12.10" textLength="7.97" lengthAdjust="spacingAndGlyphs">o</text><text transform="rotate(-90)" x="-138.56" y="12.10" textLength="8.15" lengthAdjust="spacingAndGlyphs">p</text><text transform="rotate(-90)" x="-130.18" y="12.10" textLength="8.04" lengthAdjust="spacingAndGlyphs">e</text><text transform="rotate(-90)" x="-121.96" y="12.10" textLength="5.72" lengthAdjust="spacingAndGlyphs">r</text><text transform="rotate(-90)" x="-116.45" y="12.10" textLength="4.96" lengthAdjust="spacingAndGlyphs">t</text><text transform="rotate(-90)" x="-110.95" y="12.10" textLength="3.16" lengthAdjust="spacingAndGlyphs">i</text><text transform="rotate(-90)" x="-107.33" y="12.10" textLength="8.04" lengthAdjust="spacingAndGlyphs">e</text><text transform="rotate(-90)" x="-98.86" y="12.10" textLength="6.51" lengthAdjust="spacingAndGlyphs">s</text></g>
</g>
<g class="f">
<g font-size="10.1" fill="#5a5a5a"><text x="60.01" y="482.60" textLength="7.05" lengthAdjust="spacingAndGlyphs">C</text><text x="67.39" y="482.60" textLength="6.21" lengthAdjust="spacingAndGlyphs">o</text><text x="73.90" y="482.60" textLength="6.25" lengthAdjust="spacingAndGlyphs">n</text><text x="80.40" y="482.60" textLength="3.87" lengthAdjust="spacingAndGlyphs">t</text><text x="84.66" y="482.60" textLength="5.34" lengthAdjust="spacingAndGlyphs">a</text><text x="91.12" y="482.60" textLength="2.46" lengthAdjust="spacingAndGlyphs">i</text><text x="94.03" y="482.60" textLength="6.25" lengthAdjust="spacingAndGlyphs">n</text><text x="100.75" y="482.60" textLength="5.07" lengthAdjust="spacingAndGlyphs">s</text><text x="109.45" y="482.60" textLength="7.52" lengthAdjust="spacingAndGlyphs">H</text><text x="117.34" y="482.60" textLength="8.75" lengthAdjust="spacingAndGlyphs">M</text><text x="129.72" y="482.60" textLength="6.04" lengthAdjust="spacingAndGlyphs">L</text><text x="135.64" y="482.60" textLength="5.34" lengthAdjust="spacingAndGlyphs">a</text><text x="142.09" y="482.60" textLength="6.25" lengthAdjust="spacingAndGlyphs">n</text><text x="148.66" y="482.60" textLength="6.29" lengthAdjust="spacingAndGlyphs">d</text><text x="158.74" y="482.60" textLength="7.27" lengthAdjust="spacingAndGlyphs">R</text><text x="165.97" y="482.60" textLength="6.27" lengthAdjust="spacingAndGlyphs">e</text><text x="171.96" y="482.60" textLength="6.29" lengthAdjust="spacingAndGlyphs">g</text><text x="178.73" y="482.60" textLength="2.46" lengthAdjust="spacingAndGlyphs">i</text><text x="181.69" y="482.60" textLength="5.07" lengthAdjust="spacingAndGlyphs">s</text><text x="186.95" y="482.60" textLength="3.87" lengthAdjust="spacingAndGlyphs">t</text><text x="191.09" y="482.60" textLength="4.46" lengthAdjust="spacingAndGlyphs">r</text><text x="195.65" y="482.60" textLength="5.62" lengthAdjust="spacingAndGlyphs">y</text><text x="205.01" y="482.60" textLength="6.29" lengthAdjust="spacingAndGlyphs">d</text><text x="211.75" y="482.60" textLength="5.34" lengthAdjust="spacingAndGlyphs">a</text><text x="218.05" y="482.60" textLength="3.87" lengthAdjust="spacingAndGlyphs">t</text><text x="222.31" y="482.60" textLength="5.34" lengthAdjust="spacingAndGlyphs">a</text><text x="233.15" y="482.60" textLength="7.96" lengthAdjust="spacingAndGlyphs">©</text><text x="245.82" y="482.60" textLength="7.05" lengthAdjust="spacingAndGlyphs">C</text><text x="253.14" y="482.60" textLength="4.46" lengthAdjust="spacingAndGlyphs">r</text><text x="257.52" y="482.60" textLength="6.21" lengthAdjust="spacingAndGlyphs">o</text><text x="264.00" y="482.60" textLength="7.69" lengthAdjust="spacingAndGlyphs">w</text><text x="272.39" y="482.60" textLength="6.25" lengthAdjust="spacingAndGlyphs">n</text><text x="282.33" y="482.60" textLength="5.25" lengthAdjust="spacingAndGlyphs">c</text><text x="288.08" y="482.60" textLength="6.21" lengthAdjust="spacingAndGlyphs">o</text><text x="294.64" y="482.60" textLength="6.36" lengthAdjust="spacingAndGlyphs">p</text><text x="301.36" y="482.60" textLength="5.62" lengthAdjust="spacingAndGlyphs">y</text><text x="307.34" y="482.60" textLength="4.46" lengthAdjust="spacingAndGlyphs">r</text><text x="311.81" y="482.60" textLength="2.46" lengthAdjust="spacingAndGlyphs">i</text><text x="314.62" y="482.60" textLength="6.29" lengthAdjust="spacingAndGlyphs">g</text><text x="321.38" y="482.60" textLength="6.25" lengthAdjust="spacingAndGlyphs">h</text><text x="327.88" y="482.60" textLength="3.87" lengthAdjust="spacingAndGlyphs">t</text><text x="335.48" y="482.60" textLength="5.34" lengthAdjust="spacingAndGlyphs">a</text><text x="341.94" y="482.60" textLength="6.25" lengthAdjust="spacingAndGlyphs">n</text><text x="348.50" y="482.60" textLength="6.29" lengthAdjust="spacingAndGlyphs">d</text><text x="358.51" y="482.60" textLength="6.29" lengthAdjust="spacingAndGlyphs">d</text><text x="365.25" y="482.60" textLength="5.34" lengthAdjust="spacingAndGlyphs">a</text><text x="371.55" y="482.60" textLength="3.87" lengthAdjust="spacingAndGlyphs">t</text><text x="375.81" y="482.60" textLength="5.34" lengthAdjust="spacingAndGlyphs">a</text><text x="382.31" y="482.60" textLength="6.36" lengthAdjust="spacingAndGlyphs">b</text><text x="388.91" y="482.60" textLength="5.34" lengthAdjust="spacingAndGlyphs">a</text><text x="395.43" y="482.60" textLength="5.07" lengthAdjust="spacingAndGlyphs">s</text><text x="400.75" y="482.60" textLength="6.27" lengthAdjust="spacingAndGlyphs">e</text><text x="410.50" y="482.60" textLength="4.46" lengthAdjust="spacingAndGlyphs">r</text><text x="414.97" y="482.60" textLength="2.46" lengthAdjust="spacingAndGlyphs">i</text><text x="417.79" y="482.60" textLength="6.29" lengthAdjust="spacingAndGlyphs">g</text><text x="424.55" y="482.60" textLength="6.25" lengthAdjust="spacingAndGlyphs">h</text><text x="431.05" y="482.60" textLength="3.87" lengthAdjust="spacingAndGlyphs">t</text><text x="438.65" y="482.60" textLength="5.97" lengthAdjust="spacingAndGlyphs">2</text><text x="445.43" y="482.60" textLength="6.08" lengthAdjust="spacingAndGlyphs">0</text><text x="452.02" y="482.60" textLength="5.97" lengthAdjust="spacingAndGlyphs">2</text><text x="458.87" y="482.60" textLength="5.84" lengthAdjust="spacingAndGlyphs">5</text><text x="465.30" y="482.60" textLength="3.06" lengthAdjust="spacingAndGlyphs">.</text></g>
<g font-size="10.1" fill="#5a5a5a"><text x="60.01" y="492.50" textLength="7.03" lengthAdjust="spacingAndGlyphs">C</text><text x="67.37" y="492.50" textLength="6.20" lengthAdjust="spacingAndGlyphs">o</text><text x="73.87" y="492.50" textLength="6.23" lengthAdjust="spacingAndGlyphs">n</text><text x="80.35" y="492.50" textLength="3.86" lengthAdjust="spacingAndGlyphs">t</text><text x="84.59" y="492.50" textLength="5.34" lengthAdjust="spacingAndGlyphs">a</text><text x="91.05" y="492.50" textLength="2.46" lengthAdjust="spacingAndGlyphs">i</text><text x="93.95" y="492.50" textLength="6.23" lengthAdjust="spacingAndGlyphs">n</text><text x="100.65" y="492.50" textLength="5.06" lengthAdjust="spacingAndGlyphs">s</text><text x="109.43" y="492.50" textLength="6.34" lengthAdjust="spacingAndGlyphs">p</text><text x="116.04" y="492.50" textLength="6.23" lengthAdjust="spacingAndGlyphs">u</text><text x="122.72" y="492.50" textLength="6.34" lengthAdjust="spacingAndGlyphs">b</text><text x="129.38" y="492.50" textLength="2.33" lengthAdjust="spacingAndGlyphs">l</text><text x="132.25" y="492.50" textLength="2.46" lengthAdjust="spacingAndGlyphs">i</text><text x="135.10" y="492.50" textLength="5.24" lengthAdjust="spacingAndGlyphs">c</text><text x="144.30" y="492.50" textLength="5.06" lengthAdjust="spacingAndGlyphs">s</text><text x="149.62" y="492.50" textLength="6.26" lengthAdjust="spacingAndGlyphs">e</text><text x="156.10" y="492.50" textLength="5.24" lengthAdjust="spacingAndGlyphs">c</text><text x="161.75" y="492.50" textLength="3.86" lengthAdjust="spacingAndGlyphs">t</text><text x="165.94" y="492.50" textLength="6.20" lengthAdjust="spacingAndGlyphs">o</text><text x="172.30" y="492.50" textLength="4.45" lengthAdjust="spacingAndGlyphs">r</text><text x="180.09" y="492.50" textLength="2.46" lengthAdjust="spacingAndGlyphs">i</text><text x="182.99" y="492.50" textLength="6.23" lengthAdjust="spacingAndGlyphs">n</text><text x="189.49" y="492.50" textLength="3.83" lengthAdjust="spacingAndGlyphs">f</text><text x="193.24" y="492.50" textLength="6.20" lengthAdjust="spacingAndGlyphs">o</text><text x="199.59" y="492.50" textLength="4.45" lengthAdjust="spacingAndGlyphs">r</text><text x="203.99" y="492.50" textLength="9.91" lengthAdjust="spacingAndGlyphs">m</text><text x="214.04" y="492.50" textLength="5.34" lengthAdjust="spacingAndGlyphs">a</text><text x="220.32" y="492.50" textLength="3.86" lengthAdjust="spacingAndGlyphs">t</text><text x="224.60" y="492.50" textLength="2.46" lengthAdjust="spacingAndGlyphs">i</text><text x="227.42" y="492.50" textLength="6.20" lengthAdjust="spacingAndGlyphs">o</text><text x="233.92" y="492.50" textLength="6.23" lengthAdjust="spacingAndGlyphs">n</text><text x="243.94" y="492.50" textLength="2.33" lengthAdjust="spacingAndGlyphs">l</text><text x="246.81" y="492.50" textLength="2.46" lengthAdjust="spacingAndGlyphs">i</text><text x="249.66" y="492.50" textLength="5.24" lengthAdjust="spacingAndGlyphs">c</text><text x="255.39" y="492.50" textLength="6.26" lengthAdjust="spacingAndGlyphs">e</text><text x="261.92" y="492.50" textLength="6.23" lengthAdjust="spacingAndGlyphs">n</text><text x="268.62" y="492.50" textLength="5.06" lengthAdjust="spacingAndGlyphs">s</text><text x="273.94" y="492.50" textLength="6.26" lengthAdjust="spacingAndGlyphs">e</text><text x="280.38" y="492.50" textLength="6.28" lengthAdjust="spacingAndGlyphs">d</text><text x="290.46" y="492.50" textLength="6.23" lengthAdjust="spacingAndGlyphs">u</text><text x="297.10" y="492.50" textLength="6.23" lengthAdjust="spacingAndGlyphs">n</text><text x="303.65" y="492.50" textLength="6.28" lengthAdjust="spacingAndGlyphs">d</text><text x="310.30" y="492.50" textLength="6.26" lengthAdjust="spacingAndGlyphs">e</text><text x="316.70" y="492.50" textLength="4.45" lengthAdjust="spacingAndGlyphs">r</text><text x="324.32" y="492.50" textLength="3.86" lengthAdjust="spacingAndGlyphs">t</text><text x="328.59" y="492.50" textLength="6.23" lengthAdjust="spacingAndGlyphs">h</text><text x="335.14" y="492.50" textLength="6.26" lengthAdjust="spacingAndGlyphs">e</text><text x="344.90" y="492.50" textLength="8.09" lengthAdjust="spacingAndGlyphs">O</text><text x="353.30" y="492.50" textLength="6.34" lengthAdjust="spacingAndGlyphs">p</text><text x="359.82" y="492.50" textLength="6.26" lengthAdjust="spacingAndGlyphs">e</text><text x="366.36" y="492.50" textLength="6.23" lengthAdjust="spacingAndGlyphs">n</text><text x="376.18" y="492.50" textLength="7.96" lengthAdjust="spacingAndGlyphs">G</text><text x="384.37" y="492.50" textLength="6.20" lengthAdjust="spacingAndGlyphs">o</text><text x="390.96" y="492.50" textLength="5.61" lengthAdjust="spacingAndGlyphs">v</text><text x="396.97" y="492.50" textLength="6.26" lengthAdjust="spacingAndGlyphs">e</text><text x="403.37" y="492.50" textLength="4.45" lengthAdjust="spacingAndGlyphs">r</text><text x="407.82" y="492.50" textLength="6.23" lengthAdjust="spacingAndGlyphs">n</text><text x="414.23" y="492.50" textLength="9.91" lengthAdjust="spacingAndGlyphs">m</text><text x="424.40" y="492.50" textLength="6.26" lengthAdjust="spacingAndGlyphs">e</text><text x="430.93" y="492.50" textLength="6.23" lengthAdjust="spacingAndGlyphs">n</text><text x="437.41" y="492.50" textLength="3.86" lengthAdjust="spacingAndGlyphs">t</text><text x="444.93" y="492.50" textLength="6.02" lengthAdjust="spacingAndGlyphs">L</text><text x="450.86" y="492.50" textLength="2.46" lengthAdjust="spacingAndGlyphs">i</text><text x="453.71" y="492.50" textLength="5.24" lengthAdjust="spacingAndGlyphs">c</text><text x="459.44" y="492.50" textLength="6.26" lengthAdjust="spacingAndGlyphs">e</text><text x="465.97" y="492.50" textLength="6.23" lengthAdjust="spacingAndGlyphs">n</text><text x="472.56" y="492.50" textLength="5.24" lengthAdjust="spacingAndGlyphs">c</text><text x="478.29" y="492.50" textLength="6.26" lengthAdjust="spacingAndGlyphs">e</text><text x="488.26" y="492.50" textLength="5.61" lengthAdjust="spacingAndGlyphs">v</text><text x="494.56" y="492.50" textLength="5.89" lengthAdjust="spacingAndGlyphs">3</text><text x="500.92" y="492.50" textLength="3.06" lengthAdjust="spacingAndGlyphs">.</text><text x="504.44" y="492.50" textLength="6.07" lengthAdjust="spacingAndGlyphs">0</text><text x="510.92" y="492.50" textLength="3.06" lengthAdjust="spacingAndGlyphs">.</text></g>
</g>
</g>
</svg></body></html>
